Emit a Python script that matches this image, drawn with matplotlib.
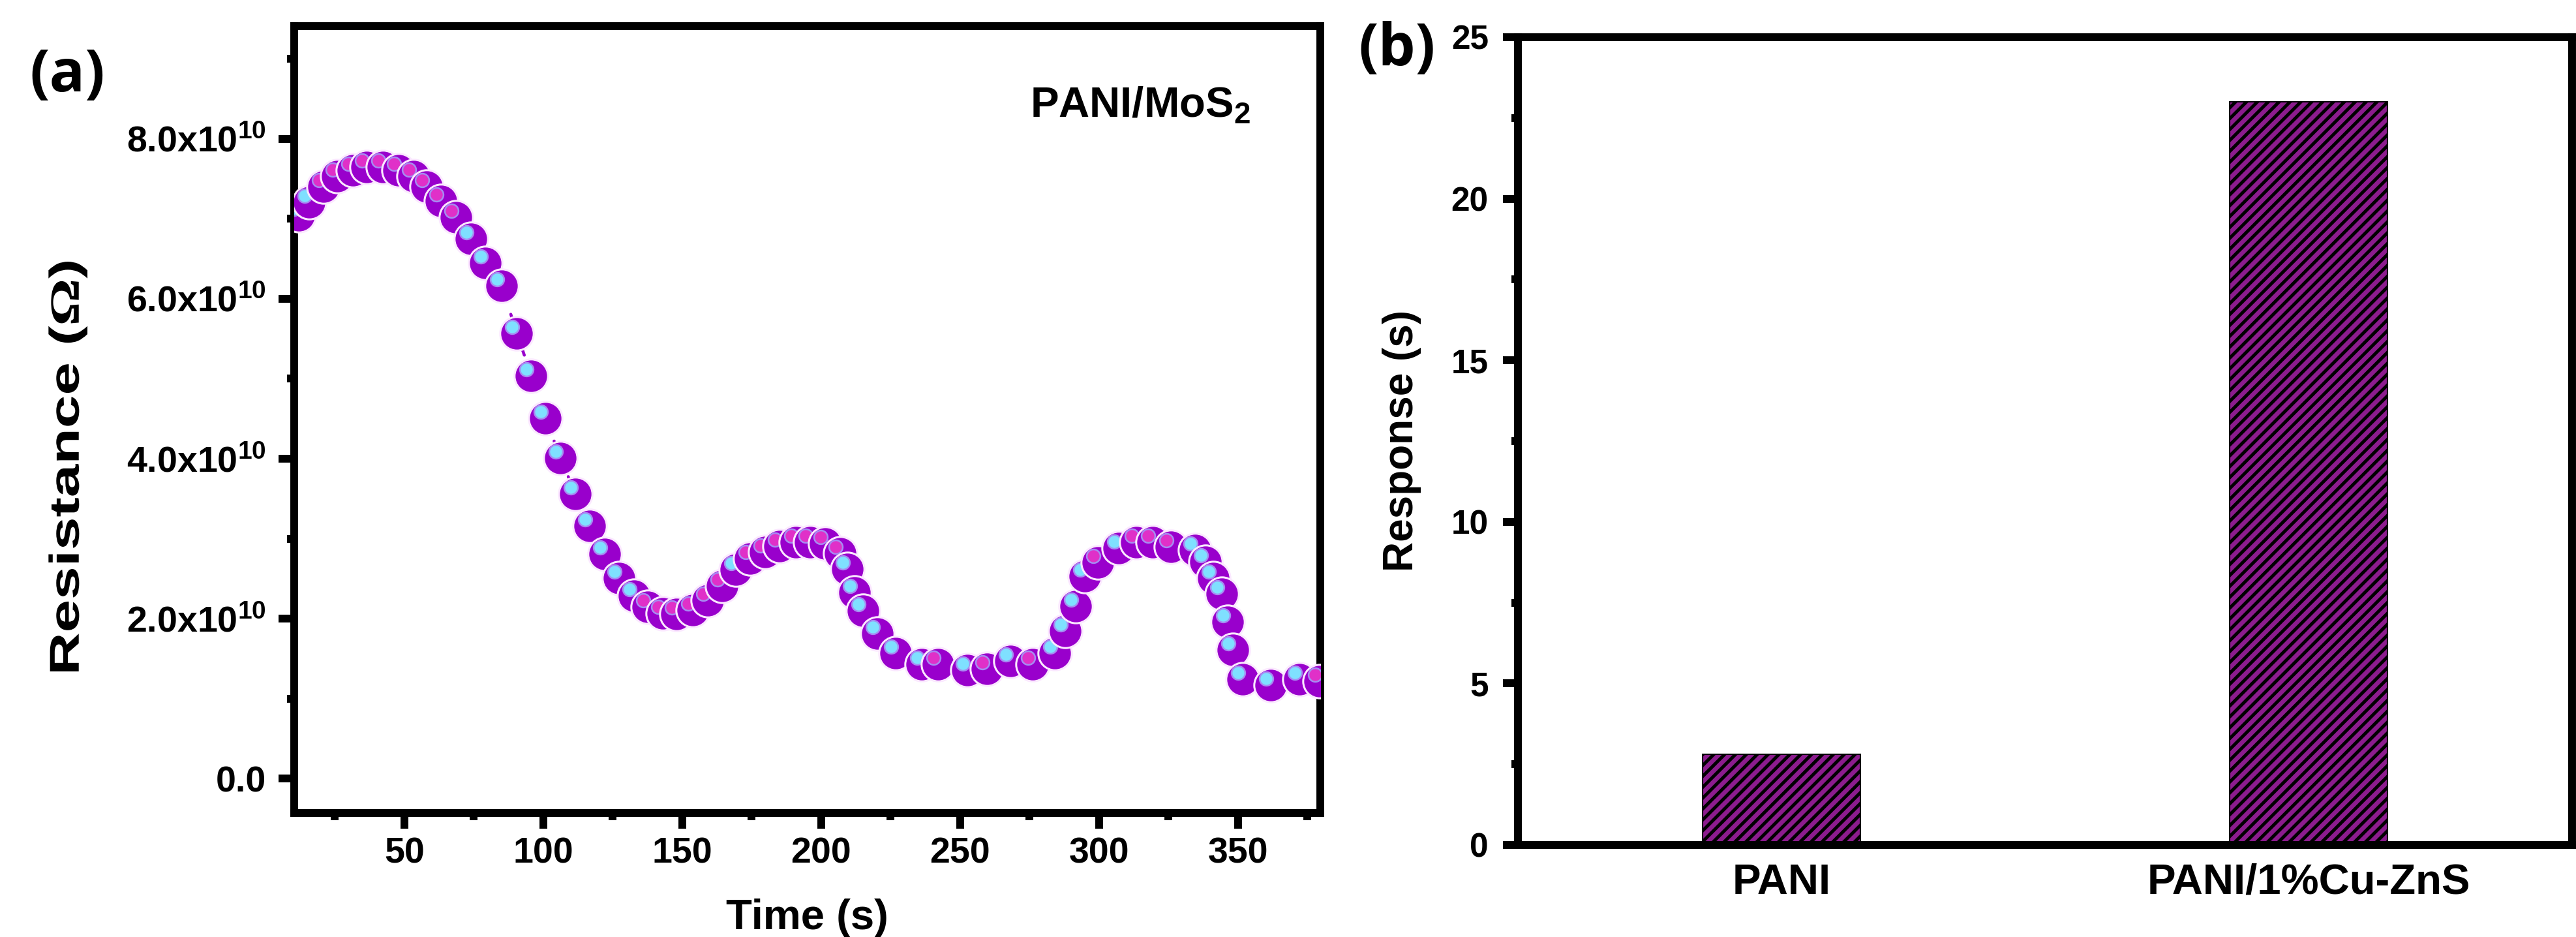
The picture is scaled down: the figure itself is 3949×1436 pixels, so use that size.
import matplotlib
matplotlib.use("Agg")
import matplotlib.pyplot as plt
import numpy as np
from matplotlib.ticker import MultipleLocator
from matplotlib.transforms import offset_copy, Affine2D
from matplotlib.textpath import TextPath
from matplotlib.patches import PathPatch
from matplotlib.font_manager import FontProperties

plt.rcParams['font.family'] = ['Liberation Sans', 'DejaVu Sans']
plt.rcParams['font.weight'] = 'bold'
plt.rcParams['axes.labelweight'] = 'bold'
plt.rcParams['mathtext.fontset'] = 'custom'
plt.rcParams['mathtext.bf'] = 'Liberation Sans:bold'
plt.rcParams['mathtext.rm'] = 'Liberation Serif'
plt.rcParams['mathtext.default'] = 'bf'
plt.rcParams['hatch.linewidth'] = 3.6

# (a) resistance vs time
time_s = [12.0, 15.8, 21.0, 25.9, 31.5, 36.5, 42.3, 48.0, 53.4, 58.1, 63.2, 68.6,
          74.0, 79.2, 85.1, 90.5, 95.7, 100.8, 106.2, 111.6, 116.8, 122.2, 127.3,
          132.8, 137.5, 143.1, 148.0, 153.7, 159.1, 164.3, 169.2, 174.4, 179.8,
          185.0, 190.8, 196.0, 201.4, 206.8, 209.5, 212.0, 215.0, 220.2, 226.7,
          236.1, 242.0, 252.6, 259.6, 268.1, 276.0, 284.0, 287.8, 291.5, 294.8,
          299.5, 307.0, 313.4, 319.3, 325.8, 334.5, 338.3, 341.1, 344.2, 346.3,
          348.2, 351.7, 361.8, 372.1, 379.4]
resistance = [7.04e10, 7.21e10, 7.40e10, 7.53e10, 7.61e10, 7.65e10, 7.65e10, 7.61e10,
              7.53e10, 7.40e10, 7.22e10, 7.02e10, 6.75e10, 6.45e10, 6.16e10, 5.57e10,
              5.04e10, 4.51e10, 4.01e10, 3.56e10, 3.16e10, 2.81e10, 2.51e10, 2.29e10,
              2.15e10, 2.07e10, 2.06e10, 2.11e10, 2.23e10, 2.41e10, 2.61e10, 2.75e10,
              2.83e10, 2.91e10, 2.96e10, 2.96e10, 2.94e10, 2.82e10, 2.62e10, 2.33e10,
              2.10e10, 1.81e10, 1.57e10, 1.43e10, 1.43e10, 1.36e10, 1.37e10, 1.47e10,
              1.43e10, 1.57e10, 1.85e10, 2.16e10, 2.53e10, 2.70e10, 2.88e10, 2.96e10,
              2.96e10, 2.90e10, 2.86e10, 2.71e10, 2.51e10, 2.31e10, 1.96e10, 1.61e10,
              1.24e10, 1.17e10, 1.24e10, 1.22e10]
x_ticks = [50, 100, 150, 200, 250, 300, 350]
y_ticks = [0, 2e10, 4e10, 6e10, 8e10]
y_tick_labels = ['0.0', r'2.0x10$^{10}$', r'4.0x10$^{10}$', r'6.0x10$^{10}$', r'8.0x10$^{10}$']

# (b) response
samples = ['PANI', 'PANI/1%Cu-ZnS']
response = [2.8, 23.0]

W, H = 3949, 1436
fig = plt.figure(figsize=(W / 100, H / 100), dpi=100)
ax1 = fig.add_axes([451 / W, 1 - 1246 / H, (2024 - 451) / W, (1246 - 40) / H])
ax2 = fig.add_axes([2327 / W, 1 - 1295 / H, (3943 - 2327) / W, (1295 - 57) / H])

purple = '#9900CC'
ax1.set_xlim(10.4, 379.6)
ax1.set_ylim(-0.43e10, 9.41e10)
ax1.plot(time_s, resistance, color=purple, lw=3.3, ls=(0, (1.6, 4.8)),
         dash_capstyle='round', zorder=2)

pts = ax1.transData.transform(np.column_stack([time_s, resistance]))
hl_tr = offset_copy(ax1.transData, fig=fig, x=-7, y=10, units='dots')
for i, (t, r) in enumerate(zip(time_s, resistance)):
    hl = '#7FE0FF'
    if i > 0:
        dx, dy = pts[i] - pts[i - 1]
        if np.hypot(dx, dy) < 35 and abs(dy) <= 1.1 * abs(dx):
            hl = '#E030C8'
    ax1.plot([t], [r], ls='none', marker='o', ms=37, mfc=purple, mec='#FBE8FF',
             mew=2.2, zorder=3 + 2 * i)
    ax1.plot([t], [r], ls='none', marker='o', ms=15, mfc=hl, mec='#A68CF2',
             mew=1.8, transform=hl_tr, zorder=4 + 2 * i)

ax1.set_xticks(x_ticks)
ax1.xaxis.set_minor_locator(MultipleLocator(25))
ax1.set_yticks(y_ticks, labels=y_tick_labels)
ax1.yaxis.set_minor_locator(MultipleLocator(1e10))
ax1.tick_params(which='both', direction='out', width=8.6, top=False, right=False)
ax1.tick_params(which='major', length=17, labelsize=40)
ax1.tick_params(which='minor', length=8)
ax1.tick_params(axis='x', pad=9)
ax1.tick_params(axis='y', pad=14)
for sp in ax1.spines.values():
    sp.set_linewidth(8.6)
ax1.set_xlabel('Time (s)', fontsize=47)
ax1.xaxis.set_label_coords(0.5, -0.109)
ax1.text(0.717, 0.884, r'PANI/MoS$_2$', transform=ax1.transAxes, fontsize=47,
         va='baseline', ha='left')

# y label of (a) is stretched along its length in the original, draw it as a path
fp = FontProperties(family='Liberation Sans', weight='bold')
tp = TextPath((0, 0), r'Resistance ($\mathrm{\Omega}$)', size=64, prop=fp)
ext = tp.get_extents()
stretch = 1.42
lab_tr = (Affine2D().translate(-(ext.x0 + ext.x1) / 2, 0).scale(stretch, 1)
          .rotate_deg(90).translate(134 + ext.y0, H - 715))
fig.add_artist(PathPatch(lab_tr.transform_path(tp), facecolor='black',
                         edgecolor='none', transform=None))

# (b)
xpos = np.arange(len(samples))
ax2.bar(xpos, response, width=0.3, color='#8C1C8E', edgecolor='black', lw=1.5,
        hatch='//', zorder=2)
ax2.set_xlim(-0.5, 1.5)
ax2.set_ylim(0, 25)
ax2.set_xticks(xpos, labels=samples)
ax2.set_yticks([0, 5, 10, 15, 20, 25])
ax2.yaxis.set_minor_locator(MultipleLocator(2.5))
ax2.tick_params(axis='x', length=0, pad=20, labelsize=47)
ax2.tick_params(axis='y', which='both', direction='out', width=8.6, right=False)
ax2.tick_params(axis='y', which='major', length=16.5, pad=16, labelsize=37)
ax2.tick_params(axis='y', which='minor', length=7)
for sp in ax2.spines.values():
    sp.set_linewidth(8.6)
ax2.set_ylabel('Response (s)', fontsize=46)
ax2.yaxis.set_label_coords(-0.0916, 0.5)

fig.text(103 / W, 1 - 117 / H, '(a)', fontsize=65, family=['Open Sans', 'DejaVu Sans'],
         fontweight='bold', ha='center', va='center')
fig.text(2141 / W, 1 - 77 / H, '(b)', fontsize=65, family=['Open Sans', 'DejaVu Sans'],
         fontweight='bold', ha='center', va='center')

fig.savefig('out.png', dpi=100)
